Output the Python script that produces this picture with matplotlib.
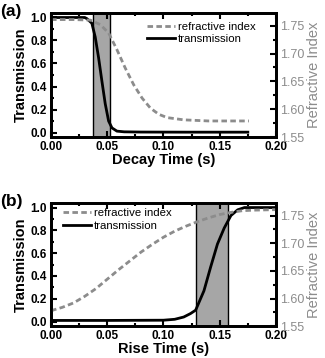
import matplotlib
matplotlib.use('Agg')
import matplotlib.pyplot as plt
from matplotlib.ticker import MultipleLocator

plt.rcParams['font.family'] = ['Liberation Sans', 'DejaVu Sans']

# (a) decay
decay_t_tr = [0.0, 0.020, 0.030, 0.0319, 0.0363, 0.0393, 0.0423, 0.0452,
              0.0482, 0.0512, 0.0542, 0.0586, 0.065, 0.08, 0.12, 0.175]
decay_tr = [1.0, 1.0, 1.0, 0.99, 0.95, 0.83, 0.65, 0.45,
            0.25, 0.10, 0.04, 0.012, 0.006, 0.004, 0.003, 0.003]
decay_t_n = [0.0, 0.020, 0.035, 0.0438, 0.0512, 0.0586, 0.066, 0.0735,
             0.081, 0.0884, 0.0958, 0.1033, 0.118, 0.14, 0.176]
decay_n = [1.761, 1.761, 1.760, 1.752, 1.737, 1.707, 1.674, 1.644,
           1.620, 1.602, 1.591, 1.585, 1.581, 1.579, 1.579]
decay_span = (0.0372, 0.0527)

# (b) rise
rise_t_tr = [0.0, 0.05, 0.10, 0.110, 0.118, 0.124, 0.1286, 0.136, 0.142,
             0.148, 0.154, 0.160, 0.166, 0.172, 0.185, 0.20]
rise_tr = [0.01, 0.01, 0.012, 0.02, 0.04, 0.07, 0.10, 0.27, 0.48,
           0.68, 0.82, 0.93, 0.98, 1.0, 1.0, 1.0]
rise_t_n = [0.0, 0.01, 0.02, 0.03, 0.04, 0.05, 0.06, 0.07, 0.08, 0.09,
            0.10, 0.11, 0.12, 0.13, 0.14, 0.15, 0.16, 0.17, 0.18, 0.20]
rise_n = [1.578, 1.584, 1.592, 1.604, 1.618, 1.635, 1.652, 1.668, 1.684,
          1.698, 1.711, 1.722, 1.731, 1.739, 1.746, 1.752, 1.756, 1.759,
          1.760, 1.761]
rise_span = (0.1286, 0.1577)

GRAY = '#8c8c8c'


def panel(rect, t_tr, tr, t_n, n, span, xlabel, label, legend_at):
    ax = fig.add_axes(rect)
    ax.axvspan(span[0], span[1], facecolor='#a6a6a6', edgecolor='black',
               lw=1.0, zorder=1)
    l1, = ax.plot(t_tr, tr, '-', color='black', lw=2.0, zorder=3,
                  label='transmission')
    ax.set_xlim(0, 0.2)
    ax.set_ylim(-0.04, 1.04)
    ax.xaxis.set_major_locator(MultipleLocator(0.05))
    ax.xaxis.set_minor_locator(MultipleLocator(0.025))
    ax.yaxis.set_major_locator(MultipleLocator(0.2))
    ax.yaxis.set_minor_locator(MultipleLocator(0.1))
    ax.set_xticklabels([f'{v:.2f}' for v in ax.get_xticks()])
    ax.set_yticklabels([f'{v:.1f}' for v in ax.get_yticks()])
    ax.tick_params(which='both', direction='in', top=True, width=1.5,
                   labelsize=8.5, pad=3)
    ax.tick_params(which='major', length=4)
    ax.tick_params(which='minor', length=2)
    for lab in ax.get_xticklabels() + ax.get_yticklabels():
        lab.set_fontweight('bold')
    ax.set_xlabel(xlabel, fontsize=10.5, fontweight='bold', labelpad=0)
    ax.set_ylabel('Transmission', fontsize=10.5, fontweight='bold',
                  labelpad=2)

    ax2 = ax.twinx()
    l2, = ax2.plot(t_n, n, '--', color=GRAY, lw=2.0, dashes=(2, 1.2),
                   label='refractive index')
    ax2.set_ylim(1.55, 1.773)
    ax2.yaxis.set_major_locator(MultipleLocator(0.05))
    ax2.yaxis.set_minor_locator(MultipleLocator(0.025))
    ax2.set_yticklabels([f'{v:.2f}' for v in ax2.get_yticks()])
    ax2.tick_params(which='both', direction='in', width=1.5, labelsize=9,
                    labelcolor=GRAY, pad=3)
    ax2.tick_params(which='major', length=4)
    ax2.tick_params(which='minor', length=2)
    ax2.set_ylabel('Refractive Index', fontsize=10.5, color=GRAY,
                   labelpad=2)
    for sp in ax2.spines.values():
        sp.set_linewidth(2.0)
    for sp in ax.spines.values():
        sp.set_linewidth(2.0)

    ax2.legend([l2, l1], ['refractive index', 'transmission'],
               loc='upper left', bbox_to_anchor=legend_at, frameon=False,
               fontsize=8.2, handlelength=2.45, handletextpad=0.25,
               labelspacing=0.25, borderpad=0, borderaxespad=0)
    fig.text(0.0, rect[1] + rect[3] + 0.005, label, fontsize=12.5,
             fontweight='bold', va='center', ha='left')


fig = plt.figure(figsize=(3.25, 3.58), dpi=100)
panel([0.157, 0.617, 0.692, 0.347], decay_t_tr, decay_tr, decay_t_n,
      decay_n, decay_span, 'Decay Time (s)', '(a)', (0.427, 0.93))
panel([0.157, 0.089, 0.692, 0.344], rise_t_tr, rise_tr, rise_t_n,
      rise_n, rise_span, 'Rise Time (s)', '(b)', (0.053, 0.96))

fig.savefig('out.png', dpi=100)
